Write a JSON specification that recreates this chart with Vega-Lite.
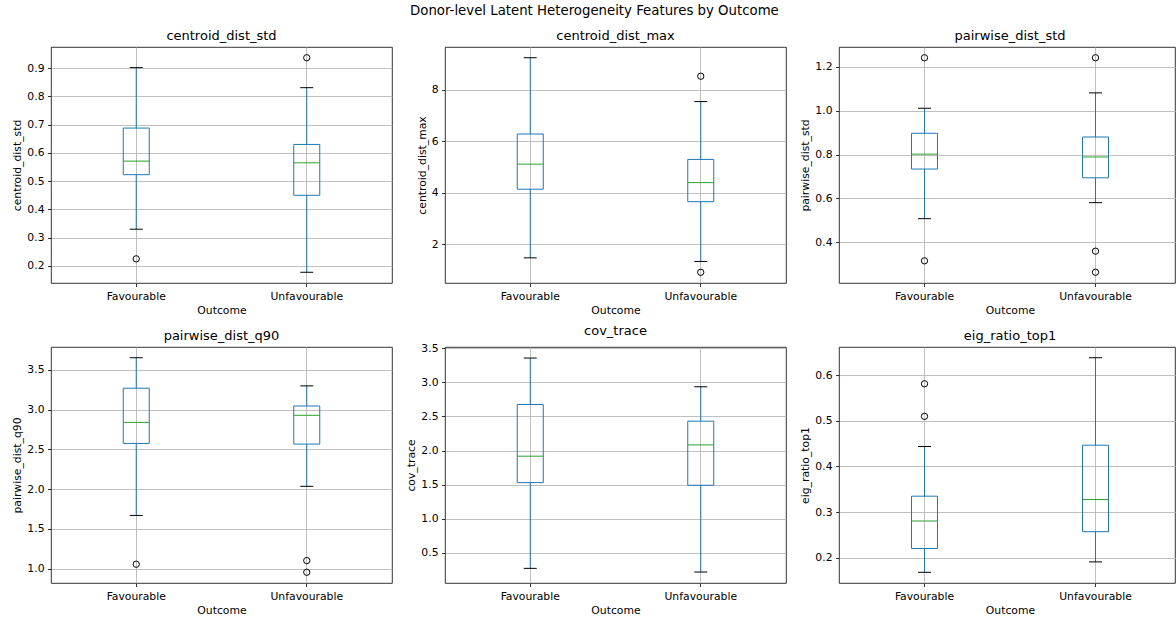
{
  "$schema": "https://vega.github.io/schema/vega-lite/v6.json",
  "background": "white",
  "autosize": {"type": "pad"},
  "padding": {"left": 11, "top": 4, "right": 0, "bottom": 3},
  "title": {"text": "Donor-level Latent Heterogeneity Features by Outcome", "fontSize": 13.3, "font": "DejaVu Sans", "fontWeight": "normal", "color": "black", "anchor": "middle", "dx": -2, "offset": 12},
  "datasets": {
    "boxes": [
      {"feature": "centroid_dist_std", "outcome": "Favourable", "lower": 0.330, "q1": 0.523, "median": 0.571, "q3": 0.688, "upper": 0.902},
      {"feature": "centroid_dist_std", "outcome": "Unfavourable", "lower": 0.1775, "q1": 0.450, "median": 0.565, "q3": 0.630, "upper": 0.831},
      {"feature": "centroid_dist_max", "outcome": "Favourable", "lower": 1.48, "q1": 4.143, "median": 5.117, "q3": 6.286, "upper": 9.247},
      {"feature": "centroid_dist_max", "outcome": "Unfavourable", "lower": 1.34, "q1": 3.66, "median": 4.40, "q3": 5.30, "upper": 7.545},
      {"feature": "pairwise_dist_std", "outcome": "Favourable", "lower": 0.508, "q1": 0.734, "median": 0.802, "q3": 0.897, "upper": 1.011},
      {"feature": "pairwise_dist_std", "outcome": "Unfavourable", "lower": 0.581, "q1": 0.694, "median": 0.789, "q3": 0.880, "upper": 1.081},
      {"feature": "pairwise_dist_q90", "outcome": "Favourable", "lower": 1.669, "q1": 2.574, "median": 2.839, "q3": 3.269, "upper": 3.652},
      {"feature": "pairwise_dist_q90", "outcome": "Unfavourable", "lower": 2.035, "q1": 2.566, "median": 2.928, "q3": 3.045, "upper": 3.298},
      {"feature": "cov_trace", "outcome": "Favourable", "lower": 0.270, "q1": 1.529, "median": 1.917, "q3": 2.676, "upper": 3.358},
      {"feature": "cov_trace", "outcome": "Unfavourable", "lower": 0.216, "q1": 1.490, "median": 2.083, "q3": 2.431, "upper": 2.936},
      {"feature": "eig_ratio_top1", "outcome": "Favourable", "lower": 0.1684, "q1": 0.2205, "median": 0.2807, "q3": 0.335, "upper": 0.4437},
      {"feature": "eig_ratio_top1", "outcome": "Unfavourable", "lower": 0.1912, "q1": 0.2573, "median": 0.3277, "q3": 0.4466, "upper": 0.638}
    ],
    "outliers": [
      {"feature": "centroid_dist_std", "outcome": "Favourable", "value": 0.225},
      {"feature": "centroid_dist_std", "outcome": "Unfavourable", "value": 0.937},
      {"feature": "centroid_dist_max", "outcome": "Unfavourable", "value": 8.53},
      {"feature": "centroid_dist_max", "outcome": "Unfavourable", "value": 0.92},
      {"feature": "pairwise_dist_std", "outcome": "Favourable", "value": 1.241},
      {"feature": "pairwise_dist_std", "outcome": "Favourable", "value": 0.316},
      {"feature": "pairwise_dist_std", "outcome": "Unfavourable", "value": 1.241},
      {"feature": "pairwise_dist_std", "outcome": "Unfavourable", "value": 0.360},
      {"feature": "pairwise_dist_std", "outcome": "Unfavourable", "value": 0.264},
      {"feature": "pairwise_dist_q90", "outcome": "Favourable", "value": 1.055},
      {"feature": "pairwise_dist_q90", "outcome": "Unfavourable", "value": 1.101},
      {"feature": "pairwise_dist_q90", "outcome": "Unfavourable", "value": 0.954},
      {"feature": "eig_ratio_top1", "outcome": "Favourable", "value": 0.581},
      {"feature": "eig_ratio_top1", "outcome": "Favourable", "value": 0.5097}
    ]
  },
  "columns": 3,
  "bounds": "flush",
  "spacing": {"row": 64, "column": 53},
  "concat": [
    {
      "width": 341, "height": 236, "title": "centroid_dist_std",
      "data": {"name": "boxes"},
      "transform": [{"filter": "datum.feature === 'centroid_dist_std'"}],
      "encoding": {"x": {"field": "outcome", "type": "nominal", "title": "Outcome", "scale": {"type": "band", "paddingInner": 0, "paddingOuter": 0}}},
      "layer": [
        {"mark": {"type": "rule", "color": "#1f77b4", "strokeWidth": 1}, "encoding": {"y": {"field": "lower", "type": "quantitative", "title": "centroid_dist_std", "scale": {"domain": [0.1395, 0.975], "nice": false, "zero": false}, "axis": {"values": [0.2, 0.3, 0.4, 0.5, 0.6, 0.7, 0.8, 0.9], "format": ".1f"}}, "y2": {"field": "q1"}}},
        {"mark": {"type": "rule", "color": "#1f77b4", "strokeWidth": 1}, "encoding": {"y": {"field": "q3", "type": "quantitative", "title": "centroid_dist_std", "scale": {"domain": [0.1395, 0.975], "nice": false, "zero": false}, "axis": {"values": [0.2, 0.3, 0.4, 0.5, 0.6, 0.7, 0.8, 0.9], "format": ".1f"}}, "y2": {"field": "upper"}}},
        {"mark": {"type": "bar", "size": 26, "fillOpacity": 0, "stroke": "#1f77b4", "strokeWidth": 1}, "encoding": {"y": {"field": "q1", "type": "quantitative", "title": "centroid_dist_std", "scale": {"domain": [0.1395, 0.975], "nice": false, "zero": false}, "axis": {"values": [0.2, 0.3, 0.4, 0.5, 0.6, 0.7, 0.8, 0.9], "format": ".1f"}}, "y2": {"field": "q3"}}},
        {"mark": {"type": "tick", "color": "#2ca02c", "size": 26, "thickness": 1, "opacity": 1}, "encoding": {"y": {"field": "median", "type": "quantitative", "title": "centroid_dist_std", "scale": {"domain": [0.1395, 0.975], "nice": false, "zero": false}, "axis": {"values": [0.2, 0.3, 0.4, 0.5, 0.6, 0.7, 0.8, 0.9], "format": ".1f"}}}},
        {"mark": {"type": "tick", "color": "black", "size": 13, "thickness": 1, "opacity": 1}, "encoding": {"y": {"field": "lower", "type": "quantitative", "title": "centroid_dist_std", "scale": {"domain": [0.1395, 0.975], "nice": false, "zero": false}, "axis": {"values": [0.2, 0.3, 0.4, 0.5, 0.6, 0.7, 0.8, 0.9], "format": ".1f"}}}},
        {"mark": {"type": "tick", "color": "black", "size": 13, "thickness": 1, "opacity": 1}, "encoding": {"y": {"field": "upper", "type": "quantitative", "title": "centroid_dist_std", "scale": {"domain": [0.1395, 0.975], "nice": false, "zero": false}, "axis": {"values": [0.2, 0.3, 0.4, 0.5, 0.6, 0.7, 0.8, 0.9], "format": ".1f"}}}},
        {"data": {"name": "outliers"}, "transform": [{"filter": "datum.feature === 'centroid_dist_std'"}], "mark": {"type": "point", "shape": "circle", "filled": false, "stroke": "black", "strokeWidth": 1, "size": 40, "opacity": 1}, "encoding": {"y": {"field": "value", "type": "quantitative", "title": "centroid_dist_std", "scale": {"domain": [0.1395, 0.975], "nice": false, "zero": false}, "axis": {"values": [0.2, 0.3, 0.4, 0.5, 0.6, 0.7, 0.8, 0.9], "format": ".1f"}}}}
      ]
    },
    {
      "width": 341, "height": 236, "title": "centroid_dist_max",
      "data": {"name": "boxes"},
      "transform": [{"filter": "datum.feature === 'centroid_dist_max'"}],
      "encoding": {"x": {"field": "outcome", "type": "nominal", "title": "Outcome", "scale": {"type": "band", "paddingInner": 0, "paddingOuter": 0}}},
      "layer": [
        {"mark": {"type": "rule", "color": "#1f77b4", "strokeWidth": 1}, "encoding": {"y": {"field": "lower", "type": "quantitative", "title": "centroid_dist_max", "scale": {"domain": [0.504, 9.663], "nice": false, "zero": false}, "axis": {"values": [2, 4, 6, 8], "format": "d"}}, "y2": {"field": "q1"}}},
        {"mark": {"type": "rule", "color": "#1f77b4", "strokeWidth": 1}, "encoding": {"y": {"field": "q3", "type": "quantitative", "title": "centroid_dist_max", "scale": {"domain": [0.504, 9.663], "nice": false, "zero": false}, "axis": {"values": [2, 4, 6, 8], "format": "d"}}, "y2": {"field": "upper"}}},
        {"mark": {"type": "bar", "size": 26, "fillOpacity": 0, "stroke": "#1f77b4", "strokeWidth": 1}, "encoding": {"y": {"field": "q1", "type": "quantitative", "title": "centroid_dist_max", "scale": {"domain": [0.504, 9.663], "nice": false, "zero": false}, "axis": {"values": [2, 4, 6, 8], "format": "d"}}, "y2": {"field": "q3"}}},
        {"mark": {"type": "tick", "color": "#2ca02c", "size": 26, "thickness": 1, "opacity": 1}, "encoding": {"y": {"field": "median", "type": "quantitative", "title": "centroid_dist_max", "scale": {"domain": [0.504, 9.663], "nice": false, "zero": false}, "axis": {"values": [2, 4, 6, 8], "format": "d"}}}},
        {"mark": {"type": "tick", "color": "black", "size": 13, "thickness": 1, "opacity": 1}, "encoding": {"y": {"field": "lower", "type": "quantitative", "title": "centroid_dist_max", "scale": {"domain": [0.504, 9.663], "nice": false, "zero": false}, "axis": {"values": [2, 4, 6, 8], "format": "d"}}}},
        {"mark": {"type": "tick", "color": "black", "size": 13, "thickness": 1, "opacity": 1}, "encoding": {"y": {"field": "upper", "type": "quantitative", "title": "centroid_dist_max", "scale": {"domain": [0.504, 9.663], "nice": false, "zero": false}, "axis": {"values": [2, 4, 6, 8], "format": "d"}}}},
        {"data": {"name": "outliers"}, "transform": [{"filter": "datum.feature === 'centroid_dist_max'"}], "mark": {"type": "point", "shape": "circle", "filled": false, "stroke": "black", "strokeWidth": 1, "size": 40, "opacity": 1}, "encoding": {"y": {"field": "value", "type": "quantitative", "title": "centroid_dist_max", "scale": {"domain": [0.504, 9.663], "nice": false, "zero": false}, "axis": {"values": [2, 4, 6, 8], "format": "d"}}}}
      ]
    },
    {
      "width": 336, "height": 236, "title": {"text": "pairwise_dist_std", "dx": 3},
      "data": {"name": "boxes"},
      "transform": [{"filter": "datum.feature === 'pairwise_dist_std'"}],
      "encoding": {"x": {"field": "outcome", "type": "nominal", "title": "Outcome", "scale": {"type": "band", "paddingInner": 0, "paddingOuter": 0, "range": [0, 342]}}},
      "layer": [
        {"mark": {"type": "rule", "color": "#1f77b4", "strokeWidth": 1}, "encoding": {"y": {"field": "lower", "type": "quantitative", "title": "pairwise_dist_std", "scale": {"domain": [0.215, 1.29], "nice": false, "zero": false}, "axis": {"values": [0.4, 0.6, 0.8, 1.0, 1.2], "format": ".1f"}}, "y2": {"field": "q1"}}},
        {"mark": {"type": "rule", "color": "#1f77b4", "strokeWidth": 1}, "encoding": {"y": {"field": "q3", "type": "quantitative", "title": "pairwise_dist_std", "scale": {"domain": [0.215, 1.29], "nice": false, "zero": false}, "axis": {"values": [0.4, 0.6, 0.8, 1.0, 1.2], "format": ".1f"}}, "y2": {"field": "upper"}}},
        {"mark": {"type": "bar", "size": 26, "fillOpacity": 0, "stroke": "#1f77b4", "strokeWidth": 1}, "encoding": {"y": {"field": "q1", "type": "quantitative", "title": "pairwise_dist_std", "scale": {"domain": [0.215, 1.29], "nice": false, "zero": false}, "axis": {"values": [0.4, 0.6, 0.8, 1.0, 1.2], "format": ".1f"}}, "y2": {"field": "q3"}}},
        {"mark": {"type": "tick", "color": "#2ca02c", "size": 26, "thickness": 1, "opacity": 1}, "encoding": {"y": {"field": "median", "type": "quantitative", "title": "pairwise_dist_std", "scale": {"domain": [0.215, 1.29], "nice": false, "zero": false}, "axis": {"values": [0.4, 0.6, 0.8, 1.0, 1.2], "format": ".1f"}}}},
        {"mark": {"type": "tick", "color": "black", "size": 13, "thickness": 1, "opacity": 1}, "encoding": {"y": {"field": "lower", "type": "quantitative", "title": "pairwise_dist_std", "scale": {"domain": [0.215, 1.29], "nice": false, "zero": false}, "axis": {"values": [0.4, 0.6, 0.8, 1.0, 1.2], "format": ".1f"}}}},
        {"mark": {"type": "tick", "color": "black", "size": 13, "thickness": 1, "opacity": 1}, "encoding": {"y": {"field": "upper", "type": "quantitative", "title": "pairwise_dist_std", "scale": {"domain": [0.215, 1.29], "nice": false, "zero": false}, "axis": {"values": [0.4, 0.6, 0.8, 1.0, 1.2], "format": ".1f"}}}},
        {"data": {"name": "outliers"}, "transform": [{"filter": "datum.feature === 'pairwise_dist_std'"}], "mark": {"type": "point", "shape": "circle", "filled": false, "stroke": "black", "strokeWidth": 1, "size": 40, "opacity": 1}, "encoding": {"y": {"field": "value", "type": "quantitative", "title": "pairwise_dist_std", "scale": {"domain": [0.215, 1.29], "nice": false, "zero": false}, "axis": {"values": [0.4, 0.6, 0.8, 1.0, 1.2], "format": ".1f"}}}}
      ]
    },
    {
      "width": 341, "height": 236, "title": "pairwise_dist_q90",
      "data": {"name": "boxes"},
      "transform": [{"filter": "datum.feature === 'pairwise_dist_q90'"}],
      "encoding": {"x": {"field": "outcome", "type": "nominal", "title": "Outcome", "scale": {"type": "band", "paddingInner": 0, "paddingOuter": 0}}},
      "layer": [
        {"mark": {"type": "rule", "color": "#1f77b4", "strokeWidth": 1}, "encoding": {"y": {"field": "lower", "type": "quantitative", "title": "pairwise_dist_q90", "scale": {"domain": [0.819, 3.787], "nice": false, "zero": false}, "axis": {"values": [1.0, 1.5, 2.0, 2.5, 3.0, 3.5], "format": ".1f"}}, "y2": {"field": "q1"}}},
        {"mark": {"type": "rule", "color": "#1f77b4", "strokeWidth": 1}, "encoding": {"y": {"field": "q3", "type": "quantitative", "title": "pairwise_dist_q90", "scale": {"domain": [0.819, 3.787], "nice": false, "zero": false}, "axis": {"values": [1.0, 1.5, 2.0, 2.5, 3.0, 3.5], "format": ".1f"}}, "y2": {"field": "upper"}}},
        {"mark": {"type": "bar", "size": 26, "fillOpacity": 0, "stroke": "#1f77b4", "strokeWidth": 1}, "encoding": {"y": {"field": "q1", "type": "quantitative", "title": "pairwise_dist_q90", "scale": {"domain": [0.819, 3.787], "nice": false, "zero": false}, "axis": {"values": [1.0, 1.5, 2.0, 2.5, 3.0, 3.5], "format": ".1f"}}, "y2": {"field": "q3"}}},
        {"mark": {"type": "tick", "color": "#2ca02c", "size": 26, "thickness": 1, "opacity": 1}, "encoding": {"y": {"field": "median", "type": "quantitative", "title": "pairwise_dist_q90", "scale": {"domain": [0.819, 3.787], "nice": false, "zero": false}, "axis": {"values": [1.0, 1.5, 2.0, 2.5, 3.0, 3.5], "format": ".1f"}}}},
        {"mark": {"type": "tick", "color": "black", "size": 13, "thickness": 1, "opacity": 1}, "encoding": {"y": {"field": "lower", "type": "quantitative", "title": "pairwise_dist_q90", "scale": {"domain": [0.819, 3.787], "nice": false, "zero": false}, "axis": {"values": [1.0, 1.5, 2.0, 2.5, 3.0, 3.5], "format": ".1f"}}}},
        {"mark": {"type": "tick", "color": "black", "size": 13, "thickness": 1, "opacity": 1}, "encoding": {"y": {"field": "upper", "type": "quantitative", "title": "pairwise_dist_q90", "scale": {"domain": [0.819, 3.787], "nice": false, "zero": false}, "axis": {"values": [1.0, 1.5, 2.0, 2.5, 3.0, 3.5], "format": ".1f"}}}},
        {"data": {"name": "outliers"}, "transform": [{"filter": "datum.feature === 'pairwise_dist_q90'"}], "mark": {"type": "point", "shape": "circle", "filled": false, "stroke": "black", "strokeWidth": 1, "size": 40, "opacity": 1}, "encoding": {"y": {"field": "value", "type": "quantitative", "title": "pairwise_dist_q90", "scale": {"domain": [0.819, 3.787], "nice": false, "zero": false}, "axis": {"values": [1.0, 1.5, 2.0, 2.5, 3.0, 3.5], "format": ".1f"}}}}
      ]
    },
    {
      "width": 341, "height": 236, "title": "cov_trace",
      "data": {"name": "boxes"},
      "transform": [{"filter": "datum.feature === 'cov_trace'"}],
      "encoding": {"x": {"field": "outcome", "type": "nominal", "title": "Outcome", "scale": {"type": "band", "paddingInner": 0, "paddingOuter": 0}}},
      "layer": [
        {"mark": {"type": "rule", "color": "#1f77b4", "strokeWidth": 1}, "encoding": {"y": {"field": "lower", "type": "quantitative", "title": "cov_trace", "scale": {"domain": [0.055, 3.52], "nice": false, "zero": false}, "axis": {"values": [0.5, 1.0, 1.5, 2.0, 2.5, 3.0, 3.5], "format": ".1f"}}, "y2": {"field": "q1"}}},
        {"mark": {"type": "rule", "color": "#1f77b4", "strokeWidth": 1}, "encoding": {"y": {"field": "q3", "type": "quantitative", "title": "cov_trace", "scale": {"domain": [0.055, 3.52], "nice": false, "zero": false}, "axis": {"values": [0.5, 1.0, 1.5, 2.0, 2.5, 3.0, 3.5], "format": ".1f"}}, "y2": {"field": "upper"}}},
        {"mark": {"type": "bar", "size": 26, "fillOpacity": 0, "stroke": "#1f77b4", "strokeWidth": 1}, "encoding": {"y": {"field": "q1", "type": "quantitative", "title": "cov_trace", "scale": {"domain": [0.055, 3.52], "nice": false, "zero": false}, "axis": {"values": [0.5, 1.0, 1.5, 2.0, 2.5, 3.0, 3.5], "format": ".1f"}}, "y2": {"field": "q3"}}},
        {"mark": {"type": "tick", "color": "#2ca02c", "size": 26, "thickness": 1, "opacity": 1}, "encoding": {"y": {"field": "median", "type": "quantitative", "title": "cov_trace", "scale": {"domain": [0.055, 3.52], "nice": false, "zero": false}, "axis": {"values": [0.5, 1.0, 1.5, 2.0, 2.5, 3.0, 3.5], "format": ".1f"}}}},
        {"mark": {"type": "tick", "color": "black", "size": 13, "thickness": 1, "opacity": 1}, "encoding": {"y": {"field": "lower", "type": "quantitative", "title": "cov_trace", "scale": {"domain": [0.055, 3.52], "nice": false, "zero": false}, "axis": {"values": [0.5, 1.0, 1.5, 2.0, 2.5, 3.0, 3.5], "format": ".1f"}}}},
        {"mark": {"type": "tick", "color": "black", "size": 13, "thickness": 1, "opacity": 1}, "encoding": {"y": {"field": "upper", "type": "quantitative", "title": "cov_trace", "scale": {"domain": [0.055, 3.52], "nice": false, "zero": false}, "axis": {"values": [0.5, 1.0, 1.5, 2.0, 2.5, 3.0, 3.5], "format": ".1f"}}}}
      ]
    },
    {
      "width": 336, "height": 236, "title": {"text": "eig_ratio_top1", "dx": 3},
      "data": {"name": "boxes"},
      "transform": [{"filter": "datum.feature === 'eig_ratio_top1'"}],
      "encoding": {"x": {"field": "outcome", "type": "nominal", "title": "Outcome", "scale": {"type": "band", "paddingInner": 0, "paddingOuter": 0, "range": [0, 342]}}},
      "layer": [
        {"mark": {"type": "rule", "color": "#1f77b4", "strokeWidth": 1}, "encoding": {"y": {"field": "lower", "type": "quantitative", "title": "eig_ratio_top1", "scale": {"domain": [0.145, 0.6615], "nice": false, "zero": false}, "axis": {"values": [0.2, 0.3, 0.4, 0.5, 0.6], "format": ".1f"}}, "y2": {"field": "q1"}}},
        {"mark": {"type": "rule", "color": "#1f77b4", "strokeWidth": 1}, "encoding": {"y": {"field": "q3", "type": "quantitative", "title": "eig_ratio_top1", "scale": {"domain": [0.145, 0.6615], "nice": false, "zero": false}, "axis": {"values": [0.2, 0.3, 0.4, 0.5, 0.6], "format": ".1f"}}, "y2": {"field": "upper"}}},
        {"mark": {"type": "bar", "size": 26, "fillOpacity": 0, "stroke": "#1f77b4", "strokeWidth": 1}, "encoding": {"y": {"field": "q1", "type": "quantitative", "title": "eig_ratio_top1", "scale": {"domain": [0.145, 0.6615], "nice": false, "zero": false}, "axis": {"values": [0.2, 0.3, 0.4, 0.5, 0.6], "format": ".1f"}}, "y2": {"field": "q3"}}},
        {"mark": {"type": "tick", "color": "#2ca02c", "size": 26, "thickness": 1, "opacity": 1}, "encoding": {"y": {"field": "median", "type": "quantitative", "title": "eig_ratio_top1", "scale": {"domain": [0.145, 0.6615], "nice": false, "zero": false}, "axis": {"values": [0.2, 0.3, 0.4, 0.5, 0.6], "format": ".1f"}}}},
        {"mark": {"type": "tick", "color": "black", "size": 13, "thickness": 1, "opacity": 1}, "encoding": {"y": {"field": "lower", "type": "quantitative", "title": "eig_ratio_top1", "scale": {"domain": [0.145, 0.6615], "nice": false, "zero": false}, "axis": {"values": [0.2, 0.3, 0.4, 0.5, 0.6], "format": ".1f"}}}},
        {"mark": {"type": "tick", "color": "black", "size": 13, "thickness": 1, "opacity": 1}, "encoding": {"y": {"field": "upper", "type": "quantitative", "title": "eig_ratio_top1", "scale": {"domain": [0.145, 0.6615], "nice": false, "zero": false}, "axis": {"values": [0.2, 0.3, 0.4, 0.5, 0.6], "format": ".1f"}}}},
        {"data": {"name": "outliers"}, "transform": [{"filter": "datum.feature === 'eig_ratio_top1'"}], "mark": {"type": "point", "shape": "circle", "filled": false, "stroke": "black", "strokeWidth": 1, "size": 40, "opacity": 1}, "encoding": {"y": {"field": "value", "type": "quantitative", "title": "eig_ratio_top1", "scale": {"domain": [0.145, 0.6615], "nice": false, "zero": false}, "axis": {"values": [0.2, 0.3, 0.4, 0.5, 0.6], "format": ".1f"}}}}
      ]
    }
  ],
  "config": {
    "font": "DejaVu Sans",
    "view": {"stroke": "black", "strokeWidth": 0.8},
    "title": {"fontSize": 13, "fontWeight": "normal", "color": "black", "font": "DejaVu Sans", "offset": 4},
    "axis": {
      "domain": false,
      "grid": true,
      "gridColor": "#b0b0b0",
      "gridWidth": 0.8,
      "tickColor": "black",
      "tickSize": 3.5,
      "tickWidth": 0.8,
      "labelColor": "black",
      "labelFont": "DejaVu Sans",
      "labelFontSize": 10.8,
      "labelPadding": 3.5,
      "labelOverlap": false,
      "titleColor": "black",
      "titleFont": "DejaVu Sans",
      "titleFontSize": 10.8,
      "titleFontWeight": "normal",
      "titlePadding": 4
    },
    "axisX": {"labelAngle": 0, "bandPosition": 0.5, "titlePadding": 4},
    "axisY": {"labelFlush": false}
  }
}
